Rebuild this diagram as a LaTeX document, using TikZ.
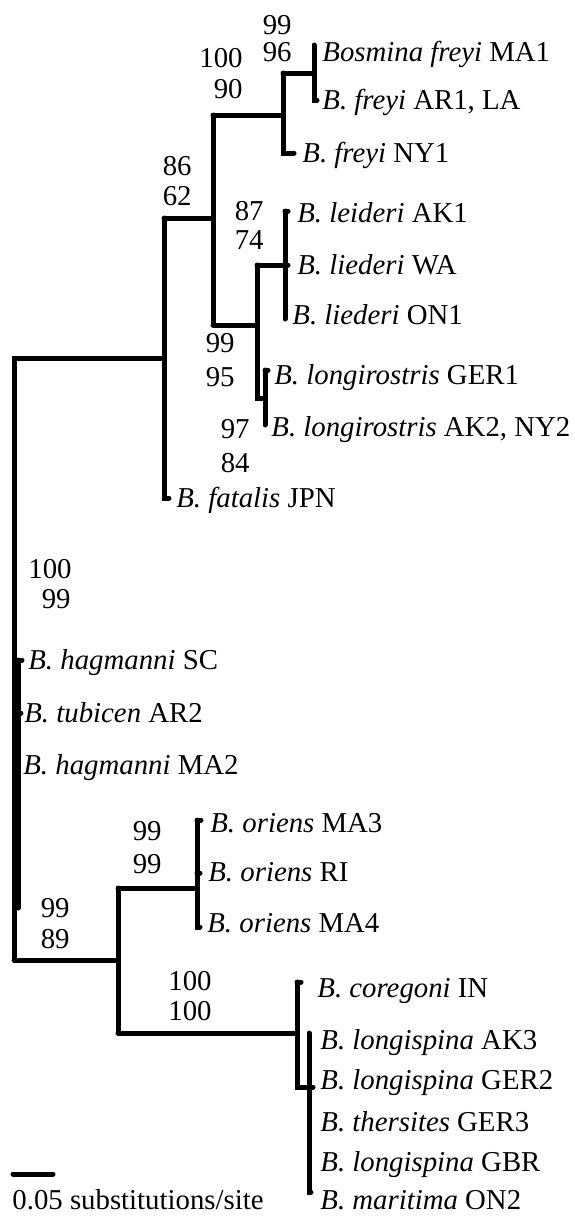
\documentclass[tikz,border=0pt]{standalone}
\usepackage{fontspec}
\setmainfont{Liberation Serif}
\begin{document}
\begin{tikzpicture}[x=0.5pt,y=-0.5pt,
  br/.style={line width=2.5pt, line cap=round, line join=miter},
  tip/.style={line width=2.5pt, line cap=round},
  lab/.style={anchor=base west, inner sep=0pt, font=\fontsize{14.4}{16}\selectfont},
  bs/.style={anchor=base east, inner sep=0pt, font=\fontsize{14.4}{16}\selectfont}]
\useasboundingbox (0,0) rectangle (574,1221);

% ---------- internal node coordinates ----------
\coordinate (rt) at (14,358);
\coordinate (rb) at (14,960);
\coordinate (nA) at (164,358);
\coordinate (nAt) at (164,218);
\coordinate (nAb) at (164,498);
\coordinate (nBt) at (213,115);
\coordinate (nBb) at (213,325);
\coordinate (nCt) at (283,73);
\coordinate (nCb) at (283,153);
\coordinate (nDt) at (314,45);
\coordinate (nDb) at (314,100);
\coordinate (nEt) at (257,265);
\coordinate (nEb) at (257,398);
\coordinate (nFt) at (285,211);
\coordinate (nFb) at (285,319);
\coordinate (nGt) at (265,370);
\coordinate (nGb) at (265,425);
\coordinate (nHt) at (118,888);
\coordinate (nHb) at (118,1033);
\coordinate (nIt) at (197,820);
\coordinate (nIb) at (197,927);
\coordinate (nJt) at (297,982);
\coordinate (nJb) at (297,1087);
\coordinate (nKt) at (309,1033);
\coordinate (nKb) at (309,1192);
\coordinate (nLt) at (18,660);
\coordinate (nLb) at (18,908);

% ---------- labels ----------
\node[lab] (tMA1) at (322,61) {\textit{Bosmina freyi} MA1};
\node[lab] (tAR1) at (322,109) {\textit{B. freyi} AR1, LA};
\node[lab] (tNY1) at (302,162) {\textit{B. freyi} NY1};
\node[lab] (tAK1) at (297,222) {\textit{B. leideri} AK1};
\node[lab] (tWA)  at (297,274) {\textit{B. liederi} WA};
\node[lab] (tON1) at (292,324) {\textit{B. liederi} ON1};
\node[lab] (tGER1) at (274,384) {\textit{B. longirostris} GER1};
\node[lab] (tAK2) at (271,436) {\textit{B. longirostris} AK2, NY2};
\node[lab] (tJPN) at (176,507) {\textit{B. fatalis} JPN};
\node[lab] (tSC)  at (28,669) {\textit{B. hagmanni} SC};
\node[lab] (tAR2) at (24,722) {\textit{B. tubicen} AR2};
\node[lab] (tMA2) at (23,774) {\textit{B. hagmanni} MA2};
\node[lab] (tMA3) at (210,832) {\textit{B. oriens} MA3};
\node[lab] (tRI)  at (208,881) {\textit{B. oriens} RI};
\node[lab] (tMA4) at (207,932) {\textit{B. oriens} MA4};
\node[lab] (tIN)  at (317,997) {\textit{B. coregoni} IN};
\node[lab] (tAK3) at (320,1049) {\textit{B. longispina} AK3};
\node[lab] (tGER2) at (320,1089) {\textit{B. longispina} GER2};
\node[lab] (tGER3) at (320,1131) {\textit{B. thersites} GER3};
\node[lab] (tGBR) at (320,1171) {\textit{B. longispina} GBR};
\node[lab] (tON2) at (320,1209) {\textit{B. maritima} ON2};

% ---------- bootstrap values ----------
\node[bs] (b1a) at (292,34) {99};
\node[bs] (b1b) at (292,61) {96};
\node[bs] (b2a) at (243,67) {100};
\node[bs] (b2b) at (243,98) {90};
\node[bs] (b3a) at (192,175) {86};
\node[bs] (b3b) at (192,205) {62};
\node[bs] (b4a) at (264,220) {87};
\node[bs] (b4b) at (264,249) {74};
\node[bs] (b5a) at (235,352) {99};
\node[bs] (b5b) at (235,386) {95};
\node[bs] (b6a) at (250,438) {97};
\node[bs] (b6b) at (250,472) {84};
\node[bs] (b7a) at (72,578) {100};
\node[bs] (b7b) at (71,608) {99};
\node[bs] (b8a) at (162,840) {99};
\node[bs] (b8b) at (162,873) {99};
\node[bs] (b9a) at (70,917) {99};
\node[bs] (b9b) at (70,948) {89};
\node[bs] (b10a) at (212,990) {100};
\node[bs] (b10b) at (212,1020) {100};

% ---------- branches ----------
\draw[br] (rb) -- (rt) -- (nA);
\draw[br] (nAt) -- (nAb) -- (169,498);
\draw[br] (nAt) -- (nBt |- nAt);
\draw[br] (nBt) -- (nBb);
\draw[br] (nBt) -- (nCt |- nBt);
\draw[br] (nCt) -- (nCb) -- (294,153);
\draw[br] (nCt) -- (nDt |- nCt);
\draw[br] (nDt) -- (nDb) -- (317,100);
\draw[br] (nBb) -- (nEt |- nBb);
\draw[br] (nEt) -- (nEb) -- (nGt |- nEb);
\draw[br] (nEt) -- (nFt |- nEt) -- (288,265);
\draw[br] (nFt) -- (nFb);
\draw[tip] (nFt) -- (288,211);
\draw[br] (nGt) -- (nGb);
\draw[tip] (nGt) -- (268,370);

\draw[br] (rb) -- (nHt |- rb);
\draw[br] (nHt) -- (nHb);
\draw[br] (nHt) -- (nIt |- nHt);
\draw[br] (nIt) -- (nIb) -- (200,927);
\draw[tip] (nIt) -- (201,820);
\draw[tip] (197,873) -- (200,873);
\draw[br] (nHb) -- (nJt |- nHb);
\draw[br] (nJt) -- (nJb) -- (nKt |- nJb) -- (313,1087);
\draw[tip] (nJt) -- (301,982);
\draw[br] (nKt) -- (nKb) -- (311,1192);
\draw[br] (nLt) -- (nLb);
\draw[tip] (nLt) -- (22,660);
\draw[tip] (18,713) -- (21,713);

% ---------- scale ----------
\coordinate (s1) at (13,1174);
\coordinate (s2) at (53,1174);
\draw[tip] (s1) -- (s2);
\node[lab] (tscale) at (12,1209) {0.05 substitutions/site};
\end{tikzpicture}
\end{document}
